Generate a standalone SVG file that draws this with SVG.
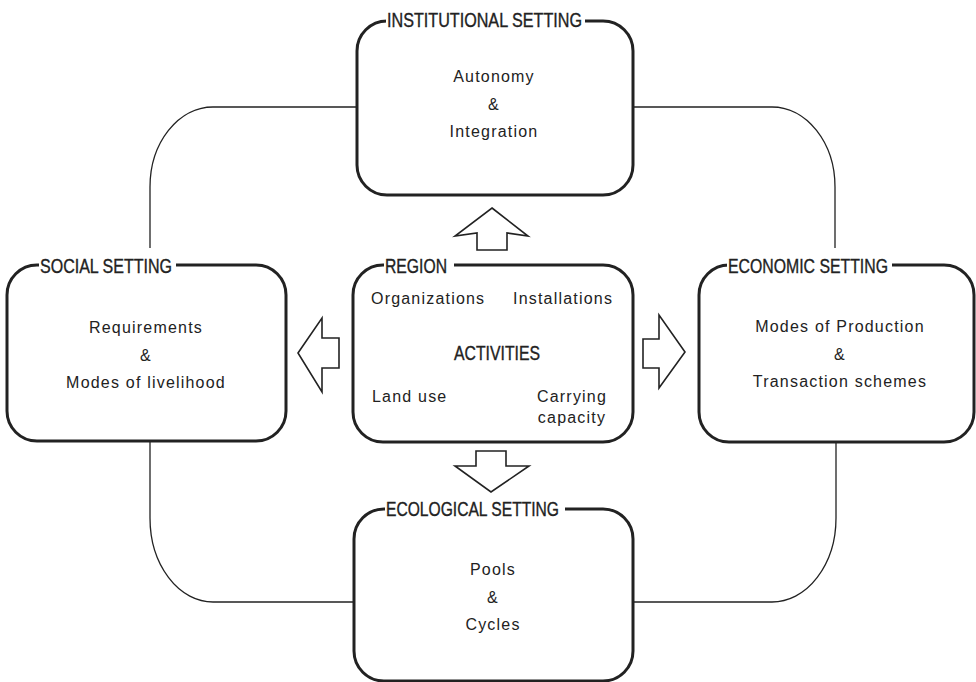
<svg xmlns="http://www.w3.org/2000/svg" width="976" height="682" viewBox="0 0 976 682">
<style>
.box{fill:#fff;stroke:#222;stroke-width:3}
.gap{fill:#fff;stroke:none}
.conn{fill:none;stroke:#222;stroke-width:1.3}
.arrow{fill:#fff;stroke:#222;stroke-width:1.6;stroke-linejoin:miter}
.title{font-family:"Liberation Sans Narrow","Liberation Sans",Arial,sans-serif;font-size:19.5px;fill:#222;stroke:#222;stroke-width:0.35}
.body{font-family:"Liberation Sans",Arial,sans-serif;font-size:16px;fill:#222;letter-spacing:1.2px}
.c{text-anchor:middle}
</style>
<rect width="976" height="682" fill="#fff"/>
<g id="connectors">
<path class="conn" d="M357,107 H213 A63,80 0 0 0 150,187 V248"/>
<path class="conn" d="M633,107 H772 A63,80 0 0 1 835,187 V248"/>
<path class="conn" d="M150,441 V518 A63,84 0 0 0 213,602 H354"/>
<path class="conn" d="M836,442 V518 A64,84 0 0 1 772,602 H633"/>
<polygon class="arrow" points="492,208 528,236 507,233 507,250 477,250 477,233 455,236"/>
<polygon class="arrow" points="476,451 506,451 506,466 529,466 491,492 455,466 476,466"/>
<polygon class="arrow" points="643,339 659,339 659,315 685,352 659,388 659,368 643,368"/>
<polygon class="arrow" points="298,353 322,318 322,338 339,338 339,368 322,368 322,392"/>
</g>
<g id="institutional">
<rect class="box" x="357" y="21" width="276" height="174" rx="30"/>
<rect class="gap" x="386" y="16" width="199" height="10"/>
<text class="title" x="387" y="27" textLength="195" lengthAdjust="spacingAndGlyphs">INSTITUTIONAL SETTING</text>
<text class="body c" x="494" y="82">Autonomy</text>
<text class="body c" x="494" y="110">&amp;</text>
<text class="body c" x="494" y="137">Integration</text>
</g>
<g id="social">
<rect class="box" x="7" y="265" width="279" height="176" rx="30"/>
<rect class="gap" x="39" y="260" width="137" height="10"/>
<text class="title" x="40" y="273" textLength="132" lengthAdjust="spacingAndGlyphs">SOCIAL SETTING</text>
<text class="body c" x="146" y="333">Requirements</text>
<text class="body c" x="146" y="361">&amp;</text>
<text class="body c" x="146" y="388">Modes of livelihood</text>
</g>
<g id="region">
<rect class="box" x="353" y="265" width="280" height="177" rx="30"/>
<rect class="gap" x="384" y="260" width="70" height="10"/>
<text class="title" x="385" y="273" textLength="62" lengthAdjust="spacingAndGlyphs">REGION</text>
<text class="body" x="371" y="304">Organizations</text>
<text class="body" x="513" y="304">Installations</text>
<text class="title c" x="497" y="360" textLength="86" lengthAdjust="spacingAndGlyphs">ACTIVITIES</text>
<text class="body" x="372" y="402">Land use</text>
<text class="body c" x="572" y="402">Carrying</text>
<text class="body c" x="572" y="423">capacity</text>
</g>
<g id="economic">
<rect class="box" x="699" y="265" width="275" height="177" rx="30"/>
<rect class="gap" x="727" y="260" width="165" height="10"/>
<text class="title" x="728" y="273" textLength="160" lengthAdjust="spacingAndGlyphs">ECONOMIC SETTING</text>
<text class="body c" x="840" y="332">Modes of Production</text>
<text class="body c" x="840" y="360">&amp;</text>
<text class="body c" x="840" y="387">Transaction schemes</text>
</g>
<g id="ecological">
<rect class="box" x="354" y="509" width="279" height="172" rx="30"/>
<rect class="gap" x="385" y="504" width="180" height="10"/>
<text class="title" x="386" y="516" textLength="173" lengthAdjust="spacingAndGlyphs">ECOLOGICAL SETTING</text>
<text class="body c" x="493" y="575">Pools</text>
<text class="body c" x="493" y="603">&amp;</text>
<text class="body c" x="493" y="630">Cycles</text>
</g>
</svg>
